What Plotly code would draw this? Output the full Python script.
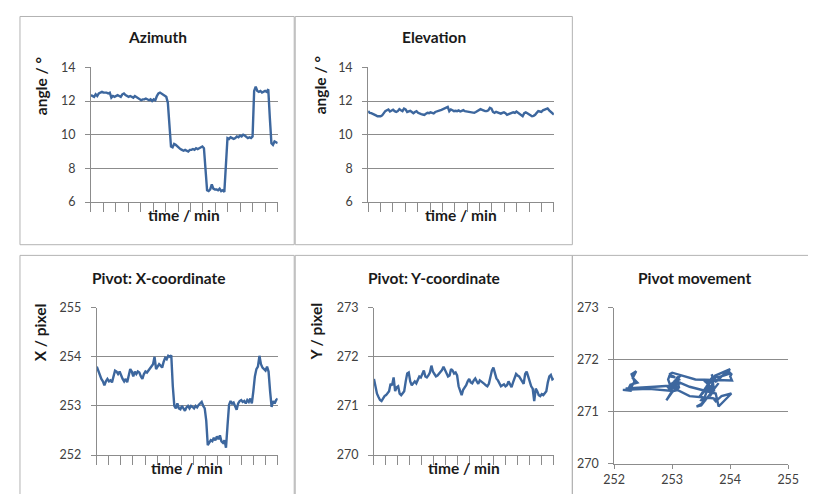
import numpy as np
import plotly.graph_objects as go

# page is 816x502; the body keeps its default 8px margin, so the figure is 800x486
PAGE_W, PAGE_H = 816, 502
OFF = 8
W, H = PAGE_W - 2 * OFF, PAGE_H - 2 * OFF

azimuth = [12.35, 12.3, 12.25, 12.4, 12.3, 12.45, 12.5, 12.55, 12.5, 12.5,
           12.5, 12.45, 12.5, 12.2, 12.3, 12.25, 12.3, 12.35, 12.3, 12.25,
           12.4, 12.45, 12.35, 12.3, 12.25, 12.3, 12.25, 12.2, 12.3, 12.25,
           12.2, 12.15, 12.05, 12.1, 12.1, 12.15, 12.1, 12.05, 12.1, 12.0,
           12.1, 12.05, 12.3, 12.45, 12.5, 12.45, 12.4, 12.35, 12.25, 11.9,
           10.5, 9.3, 9.25, 9.45, 9.4, 9.3, 9.25, 9.15, 9.1, 9.05,
           9.1, 9.05, 9.0, 9.1, 9.1, 9.15, 9.1, 9.2, 9.15, 9.2,
           9.25, 9.3, 9.2, 8.0, 6.7, 6.65, 6.75, 7.05, 6.8, 6.75,
           6.75, 6.7, 6.8, 6.65, 6.7, 6.6, 8.5, 9.8, 9.75, 9.85,
           9.8, 9.75, 9.8, 9.9, 9.85, 9.95, 9.9, 10.0, 9.95, 9.9,
           9.8, 9.85, 9.8, 9.9, 12.6, 12.85, 12.6, 12.55, 12.6, 12.5,
           12.55, 12.6, 12.55, 12.7, 11.0, 9.5, 9.4, 9.6, 9.55, 9.5]

elevation = [11.4, 11.3, 11.28, 11.22, 11.18, 11.15, 11.1, 11.08, 11.1, 11.15,
             11.3, 11.4, 11.45, 11.5, 11.38, 11.42, 11.48, 11.4, 11.35, 11.4,
             11.52, 11.45, 11.4, 11.55, 11.5, 11.35, 11.38, 11.42, 11.35, 11.28,
             11.35, 11.4, 11.3, 11.25, 11.22, 11.2, 11.18, 11.25, 11.3, 11.28,
             11.33, 11.3, 11.27, 11.35, 11.4, 11.42, 11.45, 11.48, 11.52, 11.55,
             11.6, 11.65, 11.4, 11.5, 11.45, 11.4, 11.42, 11.4, 11.44, 11.38,
             11.42, 11.46, 11.4, 11.38, 11.35, 11.33, 11.3, 11.28, 11.3, 11.35,
             11.4, 11.45, 11.52, 11.48, 11.42, 11.4, 11.4, 11.45, 11.6, 11.55,
             11.35, 11.3, 11.36, 11.32, 11.28, 11.25, 11.3, 11.33, 11.28, 11.18,
             11.22, 11.28, 11.3, 11.33, 11.3, 11.38, 11.32, 11.25, 11.2, 11.1,
             11.28, 11.33, 11.28, 11.22, 11.15, 11.1, 11.12, 11.18, 11.3, 11.4,
             11.38, 11.35, 11.45, 11.5, 11.55, 11.56, 11.45, 11.38, 11.3, 11.2]

pivot_x = [253.8, 253.7, 253.6, 253.55, 253.5, 253.42, 253.5, 253.55, 253.5, 253.52,
           253.48, 253.6, 253.72, 253.7, 253.65, 253.7, 253.6, 253.55, 253.5, 253.55,
           253.48, 253.6, 253.75, 253.7, 253.6, 253.7, 253.65, 253.7, 253.68, 253.6,
           253.55, 253.65, 253.7, 253.68, 253.72, 253.75, 253.8, 253.85, 254.0, 253.75,
           253.8, 253.85, 253.82, 253.78, 253.9, 253.98, 253.95, 254.02, 254.0, 254.03,
           253.4, 253.0, 252.95, 253.05, 252.95, 252.93, 253.0, 252.95, 252.9, 252.97,
           253.0, 252.95, 253.0, 252.98, 252.95, 253.0, 252.97, 253.02, 253.05, 253.08,
           253.0, 252.95, 252.7, 252.2, 252.25, 252.3, 252.28, 252.35, 252.3, 252.38,
           252.32, 252.4, 252.28, 252.25, 252.3, 252.15, 252.6, 253.02, 253.1, 253.05,
           253.07, 253.0, 252.92, 253.05, 253.1, 253.12, 253.08, 253.1, 253.05, 253.12,
           253.08, 253.15, 253.05, 253.3, 253.6, 253.75, 253.8, 254.02, 253.85, 253.78,
           253.75, 253.72, 253.8, 253.7, 253.3, 252.98, 253.1, 253.05, 253.12, 253.15]

pivot_y = [271.55, 271.4, 271.25, 271.18, 271.12, 271.1, 271.15, 271.2, 271.22, 271.25,
           271.3, 271.45, 271.42, 271.58, 271.3, 271.38, 271.4, 271.25, 271.22, 271.26,
           271.3, 271.5, 271.66, 271.68, 271.5, 271.42, 271.45, 271.5, 271.46, 271.55,
           271.6, 271.58, 271.65, 271.72, 271.6, 271.58, 271.62, 271.68, 271.82, 271.7,
           271.65, 271.6, 271.62, 271.66, 271.7, 271.73, 271.8, 271.72, 271.68, 271.6,
           271.62, 271.75, 271.72, 271.66, 271.68, 271.62, 271.4, 271.3, 271.22, 271.33,
           271.38, 271.42, 271.5, 271.55, 271.48, 271.46, 271.52, 271.56, 271.5, 271.45,
           271.52, 271.5, 271.48, 271.45, 271.42, 271.4, 271.45, 271.58, 271.72, 271.78,
           271.65, 271.56, 271.52, 271.45, 271.4, 271.42, 271.44, 271.4, 271.42, 271.5,
           271.45, 271.38, 271.48, 271.58, 271.65, 271.62, 271.6, 271.55, 271.5, 271.45,
           271.65, 271.7, 271.6, 271.48, 271.4, 271.35, 271.1, 271.35, 271.3, 271.22,
           271.2, 271.24, 271.22, 271.26, 271.3, 271.48, 271.6, 271.63, 271.54, 271.56]

titles = ["Azimuth", "Elevation", "Pivot: X-coordinate", "Pivot: Y-coordinate", "Pivot movement"]
ytitles = ["angle / °", "angle / °", "X / pixel", "Y / pixel"]
xtitle = "time / min"

t = list(range(len(azimuth)))

LINE = "#3d679e"
GRID = "#8c8c8c"
BORDER = "#b3b3b3"
TXT = "#404040"
TITLE_C = "#1a1a1a"
FONT = "Lato"
TSIZE = 15.5


def fx(x):
    return (x - OFF) / W


def fy(y):
    return 1 - (y - OFF) / H


# plot areas (page pixel boxes): x0, x1, ytop, ybottom
areas = [(82, 274, 61, 200), (367, 558, 61, 200),
         (88, 274, 309, 461), (373, 558, 309, 461),
         (620, 799, 309, 470)]
yranges = [[6, 14], [6, 14], [252, 255], [270, 273], [270, 273]]
ydticks = [2, 2, 1, 1, 1]

fig = go.Figure()
series = [azimuth, elevation, pivot_x, pivot_y]
for i, s in enumerate(series):
    sfx = "" if i == 0 else str(i + 1)
    fig.add_trace(go.Scatter(x=t, y=s, mode="lines", line=dict(color=LINE, width=2.4),
                             xaxis="x" + sfx, yaxis="y" + sfx, showlegend=False,
                             hoverinfo="skip"))
fig.add_trace(go.Scatter(x=pivot_x, y=pivot_y, mode="lines", line=dict(color=LINE, width=2.4),
                         xaxis="x5", yaxis="y5", showlegend=False, hoverinfo="skip"))

layout = dict(width=W, height=H, margin=dict(l=0, r=0, t=0, b=0),
              paper_bgcolor="white", plot_bgcolor="white",
              font=dict(family=FONT, color=TXT, size=11))

tickvals = list(np.linspace(0, len(t) - 1, 16))
for i, (x0, x1, yt, yb) in enumerate(areas):
    sfx = "" if i == 0 else str(i + 1)
    xa = dict(domain=[fx(x0), fx(x1)], anchor="y" + sfx, showgrid=False, zeroline=False,
              showline=True, linecolor=GRID, linewidth=1, ticks="outside",
              tickcolor=GRID, fixedrange=True)
    if i < 4:
        xa.update(range=[0, len(t) - 1], tickmode="array", tickvals=tickvals,
                  showticklabels=False, ticklen=9)
    else:
        xa.update(range=[252, 255], dtick=1, tick0=252, ticklen=4,
                  ticklabeloverflow="allow",
                  tickfont=dict(size=12.5, color=TXT, family=FONT))
    ya = dict(domain=[fy(yb), fy(yt)], anchor="x" + sfx, range=yranges[i],
              dtick=ydticks[i], tick0=yranges[i][0], showgrid=True, gridcolor=GRID,
              gridwidth=1, zeroline=False, showline=True, linecolor=GRID, linewidth=1,
              ticks="outside", ticklen=5, tickcolor=GRID,
              tickfont=dict(size=12.5, color=TXT, family=FONT), ticklabelstandoff=7,
              fixedrange=True)
    layout["xaxis" + sfx] = xa
    layout["yaxis" + sfx] = ya

fig.update_layout(**layout)

# panel frames
frames = [(9, 8.5, 291, 244), (292, 8.5, 577, 244), (9, 255, 291, 530),
          (292, 255, 577, 530), (577, 255, 840, 530)]
for (a, b, c, d) in frames:
    fig.add_shape(type="rect", xref="paper", yref="paper", x0=fx(a), x1=fx(c),
                  y0=fy(d), y1=fy(b), line=dict(color=BORDER, width=1), layer="below")

ann = dict(xref="paper", yref="paper", showarrow=False, xanchor="center", yanchor="middle")

# chart titles
title_pos = [(150, 30), (435, 30), (151, 278), (435, 278), (703, 278)]
for txt, (x, y) in zip(titles, title_pos):
    fig.add_annotation(text="<b>%s</b>" % txt, x=fx(x), y=fy(y),
                       font=dict(size=TSIZE, color=TITLE_C, family=FONT), **ann)

# y-axis titles
ytitle_pos = [(30, 80), (317, 80), (30, 334), (313, 334)]
for txt, (x, y) in zip(ytitles, ytitle_pos):
    fig.add_annotation(text="<b>%s</b>" % txt, x=fx(x), y=fy(y), textangle=-90,
                       font=dict(size=TSIZE, color=TITLE_C, family=FONT), **ann)

# x-axis titles
for (x0, x1, yt, yb) in areas[:4]:
    fig.add_annotation(text="<b>%s</b>" % xtitle, x=fx((x0 + x1) / 2), y=fy(yb + 13),
                       font=dict(size=TSIZE, color=TITLE_C, family=FONT), **ann)

fig.write_html("out.html", config={"displayModeBar": False, "staticPlot": True})
